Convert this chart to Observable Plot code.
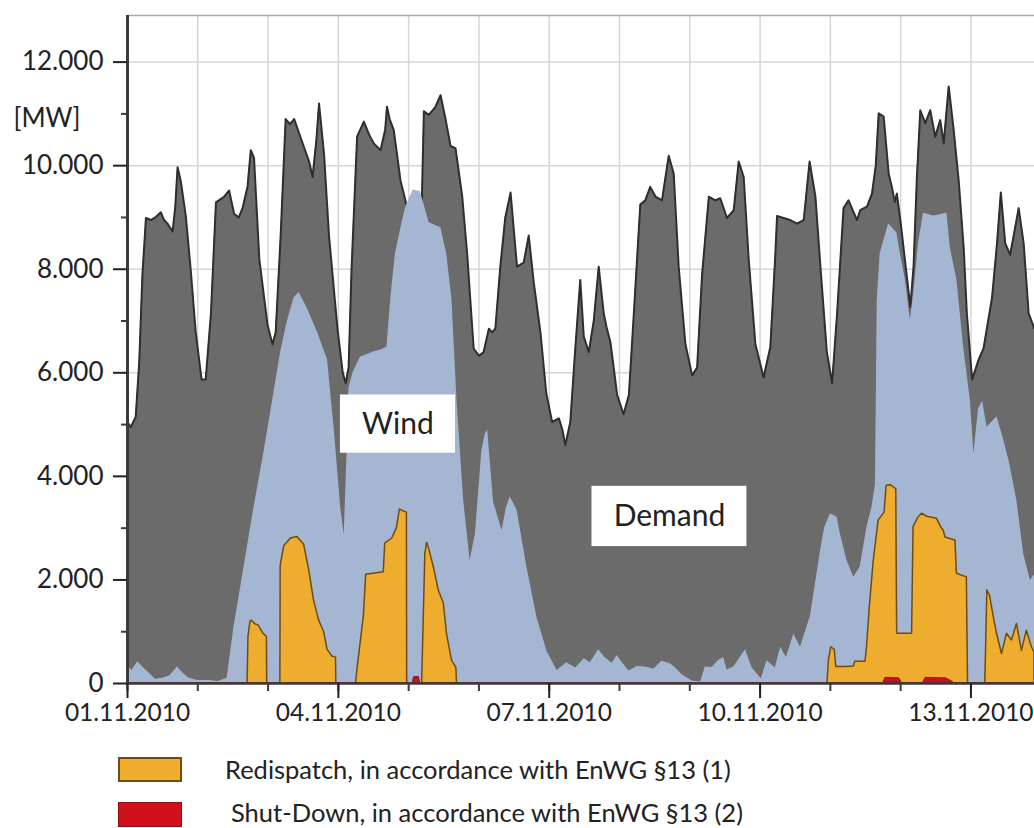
<!DOCTYPE html>
<html>
<head>
<meta charset="utf-8">
<script src="https://cdn.jsdelivr.net/npm/d3@7"></script>
<script src="https://cdn.jsdelivr.net/npm/@observablehq/plot@0.6"></script>
<style>
  body { margin: 0; background: #fff; font-family: Lato, "Open Sans", sans-serif; }
  #wrap { position: relative; width: 1034px; height: 828px; overflow: hidden; background: #fff; }
  .sw { position: absolute; left: 118px; width: 64px; height: 25px; box-sizing: border-box; }
  .lt { position: absolute; font-size: 25.5px; line-height: 25px; color: #222; white-space: nowrap; }
</style>
</head>
<body>
<div id="wrap">
  <div id="chart"></div>
  <div class="sw" style="top:757px;background:#efad30;border:2px solid #6e4c12;"></div>
  <div class="lt" style="left:225px;top:757px;">Redispatch, in accordance with EnWG §13 (1)</div>
  <div class="sw" style="top:802px;background:#d2101c;border:1px solid #9a0c14;"></div>
  <div class="lt" style="left:231px;top:800px;">Shut-Down, in accordance with EnWG §13 (2)</div>
</div>
<script>
// ---------- data (hours since 01.11.2010 00:00, MW) ----------
const demandHours = [
  0,1.1,2.8,4,5.1,6.3,8,9.5,11.4,12.5,
  13.7,15.4,16.3,17.1,18.2,19.9,21.6,23.3,25.3,26.7,
  28.5,30.2,33,34.7,36.4,38,39.3,41,42.1,43.2,
  45,47.8,49.5,50.6,52.3,54,55.5,56.9,59.2,62,
  63.2,64.5,65.4,67.1,68.8,71.7,73.5,74.5,75.5,76.5,
  78.4,80.7,82.5,84.1,86.4,88,88.6,89.5,90.9,93.2,
  94.9,96,97.5,99.5,100.5,101.2,102.9,105.1,106.9,108.6,
  110.3,112,114.3,116,118.2,120,121.6,123.4,124.5,125.6,
  127.3,129,130.8,133,135.3,137,138.7,141,143,145,
  147.3,148.5,149.5,151.2,152.9,154.6,155.8,157.5,159.2,160.9,
  162.6,163.5,164.9,167.2,169.4,171.2,172.9,175.1,176.8,178.5,
  180.3,182.5,184.8,186.5,188.2,190.5,192.8,194.5,196.2,198.5,
  200.7,202.4,204.7,207,208.7,210.4,212.1,214.4,217.2,219.5,
  221.2,221.8,224,226.3,228.6,230.9,232.9,234.9,236.6,238.8,
  240.6,242.3,244.5,246.2,249.1,250.2,252.5,254.2,255.5,256.5,
  258.2,259.9,261,262,262.7,263.9,265.6,267.3,268.4,269.5,
  270.7,272.4,274.1,275.8,277.5,278.7,280.4,282.1,283.8,285.5,
  286.6,288.4,290.6,292.3,295.2,296.9,298.2,299.7,301.4,304.3,
  306,307.7,309.7
];
const demandMW = [
  5050,4950,5150,6200,7900,8990,8950,9000,9100,8950,
  8880,8730,9200,9970,9700,9030,7980,6780,5870,5870,
  7150,9290,9400,9520,9070,9000,9180,9600,10300,10150,
  8200,6930,6550,6780,8650,10900,10800,10900,10530,10080,
  9780,10500,11200,10230,8650,6850,6000,5800,6100,8000,
  10560,10850,10600,10430,10300,10700,11140,10900,10690,9720,
  9330,8950,8600,8600,9300,11050,10980,11130,11360,10900,
  10380,10340,9400,8280,6470,6330,6400,6850,6780,6850,
  8050,9000,9480,8050,8130,8650,7750,6780,5600,5050,
  5120,4900,4600,5050,6470,7790,6700,6400,7000,8050,
  7150,6900,6590,5570,5200,5570,7150,9250,9330,9590,
  9400,9330,10190,9850,8050,6550,5950,6100,7900,9400,
  9330,9370,8990,9140,10080,9780,8200,6550,5910,6500,
  8280,9030,8990,8950,8880,8950,10080,9400,8050,6400,
  5800,7150,9180,9330,8950,9140,9210,9460,10000,11010,
  10950,9850,9590,9300,9460,8950,8110,7270,8050,9720,
  11070,10820,11070,10560,10880,10430,11530,10690,9720,8430,
  7150,5870,6250,6470,7450,8500,9480,8500,8280,9180,
  8500,7150,6850
];

const windHours = [
  0,1.5,3.5,5.5,7.5,9.5,12,14.5,17,19,
  21,24,28,31,34,36.4,39.8,43.2,46.7,50.1,
  52.3,54.6,56.9,58.6,61.5,64.9,68.3,70.6,72.8,74,
  75,75.6,77,79.5,84,87,88.6,90,91.5,93.2,
  95,97.5,100,101.5,103,107,109,110.8,112.5,114.8,
  117,118.8,121,122.2,123,125,127.9,129.4,130.7,133,
  136.4,139.8,143.2,146.7,150,153,156,158,160.9,163,
  165.5,167.2,169,171.2,174,176.8,179.7,182.5,185.4,187.5,
  189.4,192.8,195.7,197.3,199.6,201.9,203.6,204.7,207,211,
  213.3,216.4,218.4,221.2,223,225,227.5,229.8,231.5,233.2,
  236.6,238,240,242.3,243.4,245.7,248,250.2,252.5,254.2,
  255.4,256,257,259.9,262.7,263.9,265.6,267.3,268.4,270.1,
  271.8,275.3,279.8,280.9,283.2,285.5,287.8,289,290.6,292,
  293.5,296.9,299.2,301,303.7,306,308.3,309.7
];
const windMW = [
  350,250,420,300,200,80,100,150,320,200,
  100,60,60,40,100,1100,2250,3400,4500,5650,
  6400,7000,7450,7550,7230,6780,6250,4900,3400,2870,
  4500,5700,6000,6300,6400,6450,6500,7500,8300,8760,
  9200,9530,9500,9200,8900,8800,8300,7400,5470,3530,
  2370,2890,4500,4820,4890,3500,2950,3400,3600,3350,
  2240,1280,630,250,400,300,480,400,650,500,
  390,540,400,240,330,320,280,430,380,280,
  170,50,30,320,310,450,500,260,320,650,
  300,90,440,300,700,500,950,700,1000,1300,
  2550,3000,3280,3210,2890,2370,2050,2250,3020,3400,
  3850,7400,8300,8880,8700,8300,7800,7020,7500,8500,
  9080,9030,9080,8430,7790,6500,5470,4440,5300,5450,
  4950,5150,4700,4300,3530,2500,1990,2100
];

const redispatchHours = [
  0,41,41.3,42,42.5,43.5,44.8,46.5,47.6,47.7,
  52.2,52.3,53.5,55.8,58,60.3,62,63.7,65.4,67.1,
  68.3,70,71.2,71.3,78,79,80.7,81.5,87.5,88,
  90.4,92,93,94.4,95.4,95.5,100.6,101.7,102.3,103,
  104.6,106.3,108,109.1,110.8,112.3,112.5,239,239.5,240.3,
  241.5,242,245,248,248.5,252,252.5,253.5,254.8,256.5,
  258.5,259.2,260.5,261.6,262.5,262.8,267.9,268.4,270,271.3,
  273,276.4,278,278.7,279.3,282.7,283.2,286.6,287,292.9,
  293.6,294.5,295.8,296.9,298.6,300.3,302,303.7,305.4,307.1,
  308.8,309.7
];
const redispatchMW = [
  0,0,900,1200,1213,1150,1117,955,900,0,
  0,2270,2650,2800,2830,2680,2200,1600,1220,1000,
  650,520,500,0,0,500,1290,2100,2150,2700,
  2800,3000,3360,3320,3300,0,0,2500,2720,2600,
  2245,1790,1550,955,440,300,0,0,450,700,
  650,320,320,330,420,420,700,1500,2370,3150,
  3300,3820,3830,3790,3750,960,960,3020,3200,3280,
  3220,3180,3000,2950,2820,2760,2120,2050,0,0,
  1800,1700,1280,960,570,960,830,1150,630,1020,
  700,600
];

const shutdownHours = [0,97.4,97.8,99.5,100,258,258.8,263.5,264.5,271.5,272.5,279.5,281.5,282.5,309.7];
const shutdownMW    = [0,0,120,130,0,0,110,100,0,0,110,100,40,0,0];

const xTickLabels = ["01.11.2010","04.11.2010","07.11.2010","10.11.2010","13.11.2010"];
const yTickValues = [0,2000,4000,6000,8000,10000,12000];
const yMinorValues = [1000,3000,5000,7000,9000,11000];

const annotationLabels = ["Wind","Demand"];
const annotationHours = [[72.7,112.0],[158.6,211.5]];
const annotationMW = [[4447,5572],[2644,3808]];

// ---------- build ----------
const t0 = Date.UTC(2010, 10, 1);
const toDate = h => new Date(t0 + h * 3600e3);
const hoursEnd = 309.7;
const yTop = 12900;

const series = (hs, vs) => hs.map((h, i) => ({date: toDate(h), mw: vs[i]}));
const demand = series(demandHours, demandMW);
const wind = series(windHours, windMW);
const redispatch = series(redispatchHours, redispatchMW);
const shutdown = series(shutdownHours, shutdownMW);

const parseDay = d3.utcParse("%d.%m.%Y");
const labeledDates = xTickLabels.map(parseDay);
const dayTicks = d3.utcDay.range(toDate(0), toDate(hoursEnd));

const annotations = annotationLabels.map((label, i) => ({
  label,
  x1: toDate(annotationHours[i][0]), x2: toDate(annotationHours[i][1]),
  y1: annotationMW[i][0], y2: annotationMW[i][1],
  xm: toDate((annotationHours[i][0] + annotationHours[i][1]) / 2),
  ym: (annotationMW[i][0] + annotationMW[i][1]) / 2
}));

const deFmt = d3.formatLocale({decimal: ",", thousands: ".", grouping: [3], currency: ["", "€"]}).format(",.0f");
const dayFmt = d3.utcFormat("%d.%m.%Y");

const axisColor = "#3a3a3a";
const gridColor = "#d6d6d6";

const chart = Plot.plot({
  width: 1034,
  height: 735,
  marginLeft: 127,
  marginRight: 0,
  marginTop: 15,
  marginBottom: 52,
  style: {fontFamily: "Lato, 'Open Sans', sans-serif", background: "white", overflow: "visible"},
  x: {type: "utc", domain: [toDate(0), toDate(hoursEnd)], label: null},
  y: {domain: [0, yTop], label: null},
  marks: [
    Plot.gridX(dayTicks.slice(1), {stroke: gridColor, strokeOpacity: 1, strokeWidth: 1.5}),
    Plot.gridY(yTickValues.slice(1), {stroke: gridColor, strokeOpacity: 1, strokeWidth: 1.5}),
    Plot.ruleY([yTop], {stroke: "#a8a8a8", strokeWidth: 1.5}),
    Plot.areaY(demand, {x: "date", y: "mw", fill: "#6b6b6b"}),
    Plot.lineY(demand, {x: "date", y: "mw", stroke: "#2e2e2e", strokeWidth: 2}),
    Plot.areaY(wind, {x: "date", y: "mw", fill: "#a5b6d3"}),
    Plot.areaY(redispatch, {x: "date", y: "mw", fill: "#efad30", stroke: "#6e4c12", strokeWidth: 1.5}),
    Plot.areaY(shutdown, {x: "date", y: "mw", fill: "#c8101c", stroke: "#8a0a10", strokeWidth: 0.8}),
    Plot.rect(annotations, {x1: "x1", x2: "x2", y1: "y1", y2: "y2", fill: "white"}),
    Plot.text(annotations, {x: "xm", y: "ym", text: "label", fontSize: 30, fill: "#222"}),
    Plot.ruleY([0], {stroke: axisColor, strokeWidth: 2.5}),
    Plot.ruleX([toDate(0)], {stroke: axisColor, strokeWidth: 3}),
    Plot.axisY({ticks: yMinorValues, tickSize: 6, tickFormat: () => "", color: axisColor, strokeWidth: 2, label: null}),
    Plot.axisY({ticks: yTickValues, tickSize: 14, tickPadding: 10, tickFormat: deFmt, fontSize: 26, color: "#222", strokeWidth: 2, label: null}),
    Plot.axisX({ticks: dayTicks, tickSize: 8, tickFormat: () => "", color: axisColor, strokeWidth: 2, label: null}),
    Plot.axisX({ticks: labeledDates, tickSize: 15, tickPadding: 5, tickFormat: dayFmt, fontSize: 24.5, color: "#222", strokeWidth: 2, label: null}),
    Plot.text(["[MW]"], {frameAnchor: "top-left", dx: -114, dy: 93, textAnchor: "start", fontSize: 26, fill: "#222"})
  ]
});
document.getElementById("chart").appendChild(chart);
</script>
</body>
</html>
